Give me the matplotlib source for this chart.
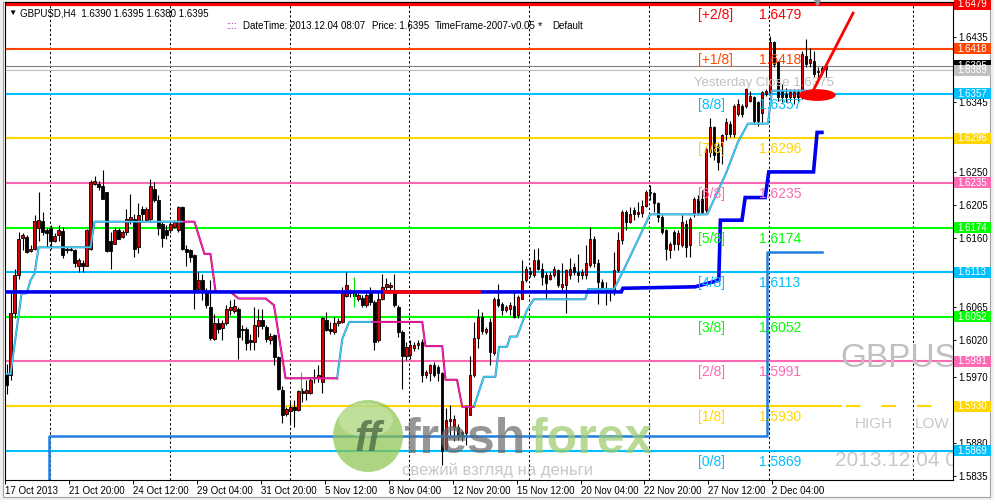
import matplotlib
matplotlib.use("Agg")
import matplotlib.pyplot as plt
import matplotlib.transforms as mtransforms
from matplotlib.patches import Rectangle, Ellipse

plt.rcParams['font.family'] = ['Liberation Sans', 'DejaVu Sans']

# GBPUSD H4 candles
opens = [
    1.5975, 1.5972, 1.6057, 1.6109, 1.6160, 1.6161, 1.6142, 1.6145, 1.6173, 1.6183,
    1.6170, 1.6173, 1.6155, 1.6164, 1.6169, 1.6145, 1.6143, 1.6143, 1.6122, 1.6125,
    1.6122, 1.6145, 1.6234, 1.6234, 1.6231, 1.6222, 1.6155, 1.6152, 1.6171, 1.6161,
    1.6168, 1.6184, 1.6186, 1.6147, 1.6200, 1.6184, 1.6186, 1.6227, 1.6211, 1.6179,
    1.6170, 1.6170, 1.6175, 1.6170, 1.6202, 1.6145, 1.6143, 1.6136, 1.6090, 1.6102,
    1.6087, 1.6066, 1.6022, 1.6043, 1.6037, 1.6043, 1.6061, 1.6060, 1.6063, 1.6036,
    1.6036, 1.6020, 1.6018, 1.6039, 1.6048, 1.6038, 1.6020, 1.6027, 1.5997, 1.5952,
    1.5919, 1.5923, 1.5929, 1.5925, 1.5950, 1.5948, 1.5948, 1.5968, 1.5968, 1.5963,
    1.6048, 1.6036, 1.6031, 1.6043, 1.6045, 1.6081, 1.6084, 1.6084, 1.6077, 1.6078,
    1.6068, 1.6084, 1.6072, 1.6020, 1.6077, 1.6093, 1.6093, 1.6086, 1.6066, 1.6031,
    1.5999, 1.6000, 1.6010, 1.6013, 1.6018, 1.5973, 1.5975, 1.5986, 1.5984, 1.5975,
    1.5871, 1.5909, 1.5902, 1.5902, 1.5895, 1.5893, 1.5918, 1.5973, 1.6023, 1.6052,
    1.6031, 1.6045, 1.6002, 1.6077, 1.6070, 1.6061, 1.6063, 1.6067, 1.6054, 1.6077,
    1.6102, 1.6114, 1.6109, 1.6130, 1.6118, 1.6109, 1.6104, 1.6109, 1.6116, 1.6093,
    1.6095, 1.6109, 1.6120, 1.6113, 1.6109, 1.6109, 1.6123, 1.6159, 1.6126, 1.6100,
    1.6091, 1.6089, 1.6086, 1.6116, 1.6157, 1.6195, 1.6182, 1.6198, 1.6193, 1.6194,
    1.6204, 1.6223, 1.6221, 1.6207, 1.6189, 1.6170, 1.6143, 1.6168, 1.6152, 1.6150,
    1.6179, 1.6150, 1.6193, 1.6213, 1.6213, 1.6198, 1.6277, 1.6311, 1.6286, 1.6286,
    1.6302, 1.6316, 1.6302, 1.6329, 1.6340, 1.6340, 1.6347, 1.6352, 1.6345, 1.6331,
    1.6357, 1.6359, 1.6427, 1.6400, 1.6361, 1.6356, 1.6352, 1.6352, 1.6359, 1.6352,
    1.6409, 1.6399, 1.6402, 1.6388, 1.6386, 1.6390]
highs = [
    1.5987, 1.6086, 1.6118, 1.6168, 1.6166, 1.6164, 1.6150, 1.6191, 1.6223, 1.6195,
    1.6173, 1.6177, 1.6166, 1.6177, 1.6175, 1.6147, 1.6147, 1.6145, 1.6132, 1.6129,
    1.6172, 1.6239, 1.6245, 1.6237, 1.6253, 1.6223, 1.6168, 1.6175, 1.6173, 1.6170,
    1.6200, 1.6220, 1.6193, 1.6207, 1.6204, 1.6202, 1.6241, 1.6236, 1.6218, 1.6182,
    1.6177, 1.6182, 1.6184, 1.6204, 1.6204, 1.6150, 1.6145, 1.6138, 1.6113, 1.6111,
    1.6091, 1.6102, 1.6056, 1.6050, 1.6047, 1.6068, 1.6075, 1.6076, 1.6066, 1.6041,
    1.6038, 1.6029, 1.6066, 1.6063, 1.6062, 1.6041, 1.6030, 1.6029, 1.5999, 1.5957,
    1.5929, 1.5936, 1.5938, 1.5952, 1.5955, 1.5966, 1.5970, 1.5981, 1.5986, 1.6052,
    1.6059, 1.6045, 1.6052, 1.6050, 1.6093, 1.6113, 1.6090, 1.6088, 1.6088, 1.6082,
    1.6086, 1.6093, 1.6075, 1.6086, 1.6111, 1.6105, 1.6100, 1.6111, 1.6068, 1.6034,
    1.6018, 1.6020, 1.6018, 1.6020, 1.6022, 1.5980, 1.5988, 1.5990, 1.5986, 1.5977,
    1.5927, 1.5932, 1.5918, 1.5906, 1.5898, 1.5932, 1.5998, 1.6045, 1.6063, 1.6059,
    1.6038, 1.6050, 1.6079, 1.6097, 1.6072, 1.6068, 1.6072, 1.6086, 1.6082, 1.6129,
    1.6122, 1.6120, 1.6145, 1.6146, 1.6125, 1.6113, 1.6113, 1.6122, 1.6118, 1.6125,
    1.6118, 1.6132, 1.6125, 1.6138, 1.6118, 1.6150, 1.6175, 1.6163, 1.6131, 1.6104,
    1.6100, 1.6091, 1.6141, 1.6168, 1.6198, 1.6198, 1.6202, 1.6202, 1.6209, 1.6211,
    1.6225, 1.6232, 1.6223, 1.6209, 1.6191, 1.6172, 1.6154, 1.6170, 1.6170, 1.6191,
    1.6184, 1.6189, 1.6216, 1.6218, 1.6225, 1.6284, 1.6324, 1.6313, 1.6291, 1.6302,
    1.6324, 1.6320, 1.6343, 1.6350, 1.6343, 1.6365, 1.6361, 1.6354, 1.6347, 1.6361,
    1.6363, 1.6436, 1.6429, 1.6402, 1.6370, 1.6365, 1.6363, 1.6363, 1.6363, 1.6415,
    1.6431, 1.6420, 1.6415, 1.6393, 1.6395, 1.6395]
lows = [
    1.5946, 1.5965, 1.6050, 1.6104, 1.6143, 1.6139, 1.6140, 1.6143, 1.6155, 1.6164,
    1.6148, 1.6145, 1.6154, 1.6155, 1.6132, 1.6139, 1.6142, 1.6120, 1.6113, 1.6113,
    1.6121, 1.6143, 1.6232, 1.6225, 1.6213, 1.6141, 1.6117, 1.6151, 1.6158, 1.6160,
    1.6164, 1.6179, 1.6134, 1.6139, 1.6182, 1.6183, 1.6182, 1.6209, 1.6164, 1.6148,
    1.6159, 1.6166, 1.6173, 1.6168, 1.6143, 1.6122, 1.6127, 1.6063, 1.6086, 1.6075,
    1.6064, 1.6020, 1.6020, 1.6030, 1.6020, 1.6041, 1.6054, 1.6057, 1.5995, 1.6020,
    1.6007, 1.6007, 1.6007, 1.6025, 1.6036, 1.6018, 1.6015, 1.5986, 1.5952, 1.5907,
    1.5916, 1.5907, 1.5902, 1.5923, 1.5936, 1.5938, 1.5947, 1.5961, 1.5963, 1.5948,
    1.6032, 1.6029, 1.6029, 1.6040, 1.6044, 1.6079, 1.6079, 1.6077, 1.6073, 1.6066,
    1.6066, 1.6068, 1.6007, 1.6018, 1.6075, 1.6088, 1.6088, 1.6066, 1.6025, 1.5954,
    1.5993, 1.5995, 1.6005, 1.6008, 1.5963, 1.5968, 1.5964, 1.5970, 1.5964, 1.5850,
    1.5870, 1.5886, 1.5882, 1.5884, 1.5882, 1.5877, 1.5918, 1.5970, 1.6009, 1.6029,
    1.6028, 1.5986, 1.6000, 1.6066, 1.6054, 1.6059, 1.6054, 1.6050, 1.6050, 1.6076,
    1.6100, 1.6106, 1.6107, 1.6116, 1.6095, 1.6077, 1.6102, 1.6107, 1.6093, 1.6088,
    1.6057, 1.6104, 1.6109, 1.6100, 1.6104, 1.6104, 1.6120, 1.6120, 1.6070, 1.6089,
    1.6068, 1.6073, 1.6082, 1.6113, 1.6152, 1.6170, 1.6180, 1.6184, 1.6189, 1.6189,
    1.6202, 1.6211, 1.6195, 1.6182, 1.6165, 1.6129, 1.6132, 1.6143, 1.6143, 1.6148,
    1.6134, 1.6134, 1.6189, 1.6191, 1.6193, 1.6195, 1.6270, 1.6266, 1.6252, 1.6261,
    1.6293, 1.6298, 1.6298, 1.6327, 1.6325, 1.6338, 1.6345, 1.6315, 1.6313, 1.6318,
    1.6354, 1.6357, 1.6393, 1.6347, 1.6345, 1.6345, 1.6347, 1.6343, 1.6347, 1.6349,
    1.6393, 1.6393, 1.6380, 1.6380, 1.6383, 1.6380]
closes = [
    1.5959, 1.6057, 1.6109, 1.6158, 1.6164, 1.6141, 1.6145, 1.6183, 1.6184, 1.6168,
    1.6166, 1.6155, 1.6163, 1.6170, 1.6137, 1.6143, 1.6145, 1.6125, 1.6129, 1.6122,
    1.6170, 1.6236, 1.6237, 1.6229, 1.6213, 1.6142, 1.6142, 1.6171, 1.6159, 1.6168,
    1.6186, 1.6188, 1.6145, 1.6191, 1.6193, 1.6200, 1.6231, 1.6211, 1.6173, 1.6160,
    1.6164, 1.6179, 1.6182, 1.6202, 1.6145, 1.6141, 1.6134, 1.6088, 1.6102, 1.6088,
    1.6068, 1.6023, 1.6043, 1.6036, 1.6044, 1.6062, 1.6066, 1.6067, 1.6025, 1.6034,
    1.6016, 1.6018, 1.6041, 1.6048, 1.6039, 1.6022, 1.6026, 1.5997, 1.5954, 1.5918,
    1.5926, 1.5929, 1.5924, 1.5950, 1.5948, 1.5952, 1.5966, 1.5970, 1.5972, 1.6050,
    1.6034, 1.6033, 1.6043, 1.6046, 1.6084, 1.6096, 1.6086, 1.6080, 1.6082, 1.6068,
    1.6082, 1.6072, 1.6018, 1.6077, 1.6093, 1.6097, 1.6096, 1.6068, 1.6031, 1.5999,
    1.6011, 1.6013, 1.6014, 1.6016, 1.5973, 1.5977, 1.5986, 1.5973, 1.5975, 1.5868,
    1.5911, 1.5912, 1.5913, 1.5891, 1.5891, 1.5927, 1.5973, 1.6023, 1.6052, 1.6032,
    1.6035, 1.6004, 1.6077, 1.6068, 1.6061, 1.6066, 1.6068, 1.6052, 1.6079, 1.6101,
    1.6118, 1.6110, 1.6130, 1.6118, 1.6107, 1.6098, 1.6109, 1.6118, 1.6095, 1.6097,
    1.6116, 1.6118, 1.6113, 1.6109, 1.6113, 1.6125, 1.6159, 1.6126, 1.6100, 1.6093,
    1.6089, 1.6086, 1.6116, 1.6157, 1.6195, 1.6182, 1.6193, 1.6193, 1.6195, 1.6203,
    1.6223, 1.6221, 1.6207, 1.6189, 1.6168, 1.6145, 1.6152, 1.6152, 1.6166, 1.6182,
    1.6148, 1.6186, 1.6213, 1.6195, 1.6195, 1.6282, 1.6311, 1.6273, 1.6263, 1.6300,
    1.6318, 1.6302, 1.6340, 1.6343, 1.6329, 1.6363, 1.6354, 1.6320, 1.6320, 1.6359,
    1.6361, 1.6427, 1.6397, 1.6352, 1.6352, 1.6352, 1.6359, 1.6359, 1.6352, 1.6411,
    1.6397, 1.6404, 1.6384, 1.6386, 1.6392, 1.6395]

# time axis labels (one every 16 bars) and weekly separators (bar positions)
xtick_bars = [0, 16, 32, 48, 64, 80, 96, 112, 128, 144, 160, 176, 192]
xtick_labels = ["17 Oct 2013", "21 Oct 20:00", "24 Oct 12:00", "29 Oct 04:00",
                "31 Oct 20:00", "5 Nov 12:00", "8 Nov 04:00", "12 Nov 20:00",
                "15 Nov 12:00", "20 Nov 04:00", "22 Nov 20:00", "27 Nov 12:00",
                "2 Dec 04:00"]
week_bars = [10.8, 40.8, 70.8, 100.8, 130.8, 160.8, 190.8, 226.8]

# Murrey math levels
mm_levels = [1.6479, 1.6418, 1.6357, 1.6296, 1.6235, 1.6174, 1.6113, 1.6052, 1.5991, 1.5930, 1.5869]
mm_names = ['[+2/8]', '[+1/8]', '[8/8]', '[7/8]', '[6/8]', '[5/8]', '[4/8]', '[3/8]', '[2/8]', '[1/8]', '[0/8]']
mm_colors = ['#FF0000', '#FF4500', '#00BFFF', '#FFD700', '#FF69B4', '#00FF00',
             '#00BFFF', '#00FF00', '#FF69B4', '#FFD700', '#00BFFF']
bid = 1.6395
prev_line = 1.6389
yesterday_close = 1.6375

# right-hand price tags
tag_prices = [1.6479, 1.6418, 1.6395, 1.6389, 1.6357, 1.6296, 1.6235, 1.6174,
              1.6113, 1.6052, 1.5991, 1.5930, 1.5869]
tag_colors = ['#FF0000', '#FF4500', '#000000', '#C0C0C0', '#00BFFF', '#FFD700',
              '#FF69B4', '#00FF00', '#00BFFF', '#00FF00', '#FF69B4', '#FFD700', '#00BFFF']
yticks = [1.6435, 1.6390, 1.6345, 1.6295, 1.6250, 1.6205, 1.6160, 1.6115,
          1.6065, 1.6020, 1.5970, 1.5925, 1.5880, 1.5835]
hidden_ticks = [1.6390, 1.6295, 1.6115, 1.5925]

# trailing stop indicator: up (cyan) and down (magenta) segments
st_up = [
    ([0, 1, 3.75, 5, 6, 7, 8, 21, 22, 44],
     [1.5974, 1.5974, 1.6084, 1.6084, 1.6102, 1.6111, 1.6147, 1.6147, 1.6182, 1.6182]),
    ([82.7, 84, 85.7, 91.5],
     [1.5968, 1.6022, 1.6045, 1.6045]),
    ([116.9, 119.4, 122.3, 123.2, 125.2, 126, 127.7, 130.2, 131.9, 144.8, 145.5, 152,
      154.4, 161, 175.3, 180, 183, 185.5, 190.5, 191.5, 203.7],
     [1.5929, 1.5970, 1.5970, 1.6011, 1.6011, 1.6025, 1.6025, 1.6061, 1.6076, 1.6076,
      1.6090, 1.6090, 1.6116, 1.6192, 1.6192, 1.6248, 1.6291, 1.6316, 1.6316, 1.6361, 1.6361]),
]
st_dn = [
    ([44, 47, 49.5, 51, 52.3, 56, 58, 64.8, 66.9, 69.8, 82.7],
     [1.6182, 1.6182, 1.6138, 1.6138, 1.6086, 1.6086, 1.6077, 1.6077, 1.6068, 1.5968, 1.5968]),
    ([91.5, 104, 104.8, 109, 109.8, 112.7, 114, 116.9],
     [1.6045, 1.6045, 1.6012, 1.6012, 1.5966, 1.5966, 1.5929, 1.5929]),
]

# blue step line (with red stretch) and dodger-blue line
step_x = [-0.5, 153.8, 154.2, 172.3, 178.2, 178.6, 184, 184.8, 189.8, 190.7, 201.9, 202.8, 204]
step_y = [1.6086, 1.6086, 1.6091, 1.6093, 1.6102, 1.6184, 1.6184, 1.6215, 1.6215, 1.6250, 1.6250, 1.6304, 1.6304]
red_x = [94.8, 118.1]
red_y = [1.6086, 1.6086]
low_x = [10.6, 10.6, 190.3, 190.3, 204]
low_y = [1.5820, 1.5889, 1.5889, 1.6140, 1.6140]
green_marks = [(73.6, 1.5948, 1.5977), (86.9, 1.6066, 1.6107)]

W, H = 994, 500
Y0, Y1 = 1.5829, 1.64822
fig = plt.figure(figsize=(W / 100, H / 100), dpi=100)
fig.patch.set_facecolor('#F0F0F0')
fig.add_artist(Rectangle((3 / W, 3 / H), 987 / W, 495 / H, transform=fig.transFigure,
                         facecolor='white', edgecolor='#A0A0A0', lw=0.8, zorder=-10))
ax = fig.add_axes([5 / W, 20 / H, 948 / W, 478 / H])
ax.set_xlim(-0.2, 236.8)
ax.set_ylim(Y0, Y1)

# weekly dashed separators
ax.vlines(week_bars, Y0, Y1, colors='black', linestyles=(0, (2.2, 2.2)), lw=0.75, zorder=1)

# Murrey lines and labels
for lvl, name, col in zip(mm_levels, mm_names, mm_colors):
    lw = 2.3 if name == '[+2/8]' else 1.5
    if name == '[1/8]':
        ax.hlines(lvl, -0.5, 209, color=col, lw=lw, zorder=2)
        ax.hlines(lvl, 210, 233.5, color=col, lw=lw, linestyles=(0, (7, 10)), zorder=2)
    else:
        ax.axhline(lvl, color=col, lw=lw, zorder=2)
    ax.annotate(name, (173.1, lvl), xytext=(0, -11), textcoords='offset pixels',
                color=col, fontsize=10, va='center', ha='left', zorder=9)
    ax.annotate(f'{lvl:.4f}', (188.2, lvl), xytext=(0, -11), textcoords='offset pixels',
                color=col, fontsize=10, va='center', ha='left', zorder=9)

ax.axhline(bid, color='#808080', lw=0.8, zorder=2)
ax.axhline(prev_line, color='#C0C0C0', lw=0.8, zorder=2)
ax.text(171.9, yesterday_close - 0.0003, f'Yesterday Close {yesterday_close:.4f}',
        color='#C0C0C0', fontsize=9.5, va='center', ha='left', zorder=9)

# candles
idx = list(range(len(closes)))
ax.vlines(idx, lows, highs, color='black', lw=0.8, zorder=3)
bottoms = [min(o, c) for o, c in zip(opens, closes)]
heights = [max(abs(c - o), 0.00007) for o, c in zip(opens, closes)]
face = ['#E00000' if c >= o else 'black' for o, c in zip(opens, closes)]
ax.bar(idx, heights, bottom=bottoms, width=0.62, color=face, edgecolor='black',
       linewidth=0.6, zorder=4)

for x, a, b in green_marks:
    ax.vlines(x, a, b, color='#00DD00', lw=0.8, zorder=5)

# trailing stop
for xs, ys in st_up:
    ax.plot(xs, ys, color='#3A80B5', lw=1.5, zorder=6)
    ax.plot(xs, ys, color='#38E0FF', lw=0.75, zorder=7)
for xs, ys in st_dn:
    ax.plot(xs, ys, color='#B01040', lw=1.5, zorder=6)
    ax.plot(xs, ys, color='#FF20E0', lw=0.75, zorder=7)

ax.plot(step_x, step_y, color='#0000F0', lw=2.6, zorder=8, solid_joinstyle='miter')
ax.plot(red_x, red_y, color='#FF0000', lw=2.6, zorder=8)
ax.plot(low_x, low_y, color='#1E80E0', lw=1.8, zorder=8)

# red arrow and ellipse mark
ax.add_patch(Ellipse((202.8, 1.6355), 9.3, 0.0016, facecolor='#FF0000', edgecolor='none', zorder=9))
ax.plot([201.8, 211.8], [1.6361, 1.6467], color='#FF0000', lw=2.0, zorder=9)
ax.plot([202.8], [Y1], marker='v', color='#909090', markersize=5, clip_on=False, zorder=9)

# watermarks on the right
ax.text(208.7, 1.5991 + 0.0004, 'GBPUSD', color='#C0C0C0', fontsize=24, va='center',
        ha='left', zorder=10, clip_on=True)
ax.text(212.3, 1.5906, 'HIGH', color='#C8C8C8', fontsize=11, va='center', ha='left', zorder=10)
ax.text(227.3, 1.5906, 'LOW', color='#C8C8C8', fontsize=11, va='center', ha='left', zorder=10)
ax.text(207.3, 1.5856, '2013.12.04 08:07', color='#C8C8C8', fontsize=15, va='center',
        ha='left', zorder=10, clip_on=True)

# axes styling
for s in ax.spines.values():
    s.set_linewidth(0.8)
ax.yaxis.tick_right()
ax.set_yticks(yticks)
ax.set_yticklabels(['' if t in hidden_ticks else f'{t:.4f}' for t in yticks])
ax.tick_params(axis='y', labelsize=7, length=2.5, pad=1.2, width=0.7)
ax.set_xticks([b - 0.4 for b in xtick_bars])
ax.set_xticklabels(xtick_labels)
ax.tick_params(axis='x', labelsize=7, length=3, pad=1.5, width=0.7)
plt.setp(ax.get_xticklabels(), ha='left')

trans = mtransforms.blended_transform_factory(ax.transAxes, ax.transData)
bw = 37 / 948
bh = 11 / 7317
for p, c in zip(tag_prices, tag_colors):
    ax.add_patch(Rectangle((1.0008, p - bh / 2), bw, bh, transform=trans, facecolor=c,
                           edgecolor='none', clip_on=False, zorder=20))
    ax.text(1.0 + 4.5 / 948, p, f'{p:.4f}', transform=trans, color='white', fontsize=7,
            va='center', ha='left', clip_on=False, zorder=21)

# header texts
def px(x, y):
    return x / W, 1 - y / H

fig.text(*px(8, 13), '\u25BC', fontsize=6, va='center', ha='left')
fig.text(*px(20, 13), 'GBPUSD,H4  1.6390 1.6395 1.6380 1.6395', fontsize=7, va='center', ha='left')
fig.text(*px(226, 26), '::::', color='#800080', fontsize=7, va='center', ha='left')
fig.text(*px(243, 26), 'DateTime: 2013.12.04 08:07', fontsize=7, va='center', ha='left')
fig.text(*px(372, 26), 'Price: 1.6395', fontsize=7, va='center', ha='left')
fig.text(*px(435, 26), 'TimeFrame-2007-v0.05', fontsize=7, va='center', ha='left')
fig.text(*px(538, 26), '*', fontsize=8, va='center', ha='left')
fig.text(*px(552, 26), 'Default', fontsize=7, va='center', ha='left')

# freshforex logo watermark
fig.add_artist(Ellipse(px(368, 436), 70 / W, 72 / H, transform=fig.transFigure,
                       facecolor='#8BC34A', edgecolor='none', alpha=0.7, zorder=5))
fig.add_artist(Ellipse(px(366, 420), 54 / W, 34 / H, transform=fig.transFigure,
                       facecolor='#D8EEC0', edgecolor='none', alpha=0.45, zorder=5))
fig.text(*px(368, 440), 'ff', color='#4E6E44', fontsize=30, fontweight='bold',
         fontstyle='italic', va='center', ha='center', alpha=0.8, zorder=6)
fig.text(*px(403, 453), 'fresh', color='#6A6A6A', fontsize=36, fontweight='bold',
         va='baseline', ha='left', alpha=0.7, zorder=6)
fig.text(*px(530, 453), 'forex', color='#9CCB6B', fontsize=36, fontweight='bold',
         va='baseline', ha='left', alpha=0.7, zorder=6)
fig.text(*px(402, 470), 'свежий взгляд на деньги', color='#909090', fontsize=12,
         va='center', ha='left', alpha=0.5, zorder=6)

fig.savefig('out.png', dpi=100)
